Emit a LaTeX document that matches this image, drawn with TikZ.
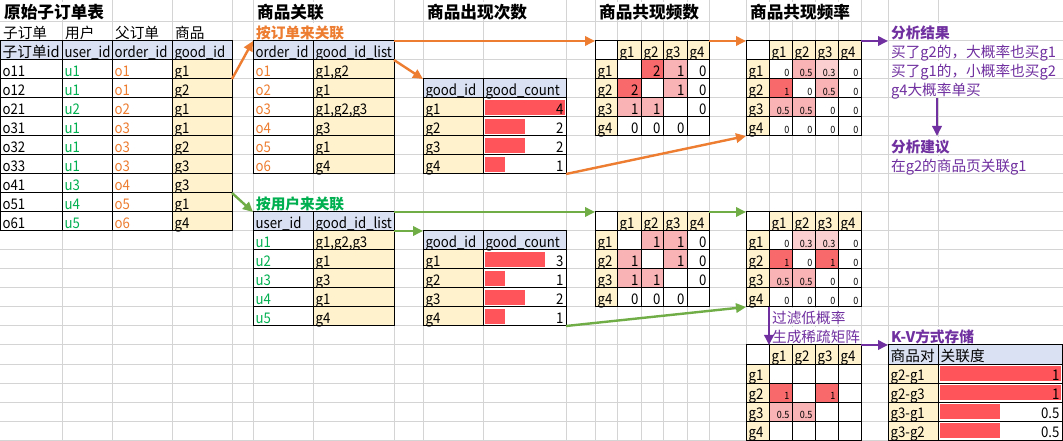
\documentclass[tikz,border=0pt]{standalone}
\usepackage{fontspec}
\setmainfont{Noto Sans CJK SC}
\newfontfamily\latn{Noto Sans CJK SC}[FakeStretch=0.9]
\usetikzlibrary{arrows.meta}
\definecolor{gridc}{HTML}{D4D4D4}
\definecolor{hblue}{HTML}{D9E1F2}
\definecolor{cyel}{HTML}{FFF2CC}
\definecolor{dkr}{HTML}{F8696B}
\definecolor{ltr}{HTML}{F9B3B4}
\definecolor{ltrb}{HTML}{FBCFD0}
\colorlet{cw}{white}
\definecolor{barr}{HTML}{FF555A}
\definecolor{orng}{HTML}{ED7D31}
\definecolor{grn}{HTML}{70AD47}
\definecolor{tgrn}{HTML}{00B050}
\definecolor{purp}{HTML}{7030A0}
\newcommand\emptyc{}
\tikzset{
 cellbox/.style={draw=black,line width=0.75pt,inner xsep=2pt,inner ysep=0pt,outer sep=0pt,text height=12pt,text depth=1.2pt,anchor=north west,font=\fontsize{11}{13}\selectfont\latn},
 cjk/.style={font=\fontsize{11}{13}\selectfont},
 txt/.style={anchor=west,inner xsep=1pt,inner ysep=0pt,fill=white,text height=12pt,text depth=1.2pt,font=\fontsize{11}{13}\selectfont},
 txtb/.style={txt,font=\fontsize{11}{13}\selectfont\bfseries},
 ttl/.style={anchor=west,inner xsep=1pt,inner ysep=0pt,fill=white,text height=13pt,text depth=1pt,font=\fontsize{12.5}{14}\selectfont\bfseries},
 gridl/.style={draw=gridc,line width=0.75pt},
 arO/.style={draw=orng,line width=1.8pt,-{Triangle[length=7.5pt,width=7pt]}},
 arG/.style={draw=grn,line width=1.8pt,-{Triangle[length=7.5pt,width=7pt]}},
 arP/.style={draw=purp,line width=1.8pt,-{Triangle[length=7.5pt,width=7pt]}},
}
% cell: name, x0, y0, x1, y1, fill, options, text
\newcommand\xc[8]{%
  \pgfmathsetmacro\xcW{((#4)-(#2))*0.75}%
  \pgfmathsetmacro\xcH{((#5)-(#3))*0.75}%
  \pgfmathsetmacro\xcT{\xcW-4}%
  \node[cellbox,fill=#6,minimum width=\xcW pt,minimum height=\xcH pt,text width=\xcT pt,#7] (#1) at (#2,#3) {#8};}
% matrix: name, x-list, ytop, font, rows
\newcommand\xmat[5]{%
  \pgfmathsetmacro\mxa{{#2}[0]}\pgfmathsetmacro\mxb{{#2}[1]}%
  \xc{#1-0-0}{\mxa}{#3}{\mxb}{#3+19}{white}{}{}%
  \foreach \k in {1,...,4}{%
    \pgfmathtruncatemacro\kn{\k+1}%
    \pgfmathsetmacro\ml{{#2}[\k]}\pgfmathsetmacro\mr{{#2}[\kn]}%
    \xc{#1-0-\k}{\ml}{#3}{\mr}{#3+19}{cyel}{}{g\k}%
    \pgfmathsetmacro\mt{#3+19*\k}%
    \xc{#1-\k-0}{\mxa}{\mt}{\mxb}{\mt+19}{cyel}{}{g\k}%
  }%
  \foreach \rowdata [count=\r] in {#5}{%
    \pgfmathsetmacro\mt{#3+19*\r}%
    \foreach \v/\f [count=\k] in \rowdata {%
      \pgfmathtruncatemacro\kn{\k+1}%
      \pgfmathsetmacro\ml{{#2}[\k]}\pgfmathsetmacro\mr{{#2}[\kn]}%
      \xc{#1-\r-\k}{\ml}{\mt}{\mr}{\mt+19}{\f}{align=right,font=#4}{\v}%
    }%
  }%
}
\begin{document}
\begin{tikzpicture}[x=0.75pt,y=-0.75pt]
\useasboundingbox (0,0) rectangle (1063,441);
\fill[white] (0,0) rectangle (1063,441);
% grid
\foreach \gx in {62,112,172,232,253,313,394,423,483,566,595,617,641,663,687,709,746,769,792,815,838,861,888,938}
  \draw[gridl] (\gx,0) -- (\gx,441);
\foreach \gy in {22,41,...,440}
  \draw[gridl] (0,\gy) -- (1063,\gy);
% titles and labels
\node[ttl] (ti1) at (2.5,11) {原始子订单表};
\node[ttl] (ti2) at (255.5,11) {商品关联};
\node[ttl] (ti3) at (425.5,11) {商品出现次数};
\node[ttl] (ti4) at (597.5,11) {商品共现频数};
\node[ttl] (ti5) at (748.5,11) {商品共现频率};
\node[txt] (lb1) at (1.5,31.5) {子订单};
\node[txt] (lb2) at (63.5,31.5) {用户};
\node[txt] (lb3) at (113.5,31.5) {父订单};
\node[txt] (lb4) at (173.5,31.5) {商品};
\node[txtb,text=orng] (lbo) at (254.5,31.5) {按订单来关联};
\node[txtb,text=tgrn] (lbu) at (254.5,202.5) {按用户来关联};
\node[txtb,text=purp] (an1) at (889.5,31.5) {分析结果};
\node[txt,text=purp] (an2) at (889.5,50.5) {买了g2的，大概率也买g1};
\node[txt,text=purp] (an3) at (889.5,69.5) {买了g1的，小概率也买g2};
\node[txt,text=purp] (an4) at (889.5,88.5) {g4大概率单买};
\node[txtb,text=purp] (an5) at (889.5,145.5) {分析建议};
\node[txt,text=purp] (an6) at (889.5,164.5) {在g2的商品页关联g1};
\node[txt,text=purp] (fl1) at (770.5,316.5) {过滤低概率};
\node[txt,text=purp] (fl2) at (770.5,335.5) {生成稀疏矩阵};
\node[txtb,text=purp] (kvt) at (889.5,335.5) {K-V方式存储};
% original table
\xc{t-0-1}{0}{41}{62}{60}{hblue}{cjk}{子订单id}
\xc{t-0-2}{62}{41}{112}{60}{hblue}{}{user\_id}
\xc{t-0-3}{112}{41}{172}{60}{hblue}{}{order\_id}
\xc{t-0-4}{172}{41}{232}{60}{hblue}{}{good\_id}
\foreach \ta/\tb/\tc/\td [count=\r] in {o11/u1/o1/g1,o12/u1/o1/g2,o21/u2/o2/g1,o31/u1/o3/g1,o32/u1/o3/g2,o33/u1/o3/g3,o41/u3/o4/g3,o51/u4/o5/g1,o61/u5/o6/g4}{
  \pgfmathsetmacro\yt{41+19*\r}
  \xc{t-\r-1}{0}{\yt}{62}{\yt+19}{white}{}{\ta}
  \xc{t-\r-2}{62}{\yt}{112}{\yt+19}{white}{text=tgrn}{\tb}
  \xc{t-\r-3}{112}{\yt}{172}{\yt+19}{white}{text=orng}{\tc}
  \xc{t-\r-4}{172}{\yt}{232}{\yt+19}{cyel}{}{\td}
}
% order table
\xc{o-0-1}{253}{41}{313}{60}{hblue}{}{order\_id}
\xc{o-0-2}{313}{41}{394}{60}{hblue}{}{good\_id\_list}
\foreach \ta/\tb [count=\r] in {o1/{g1,g2},o2/g1,o3/{g1,g2,g3},o4/g3,o5/g1,o6/g4}{
  \pgfmathsetmacro\yt{41+19*\r}
  \xc{o-\r-1}{253}{\yt}{313}{\yt+19}{white}{text=orng}{\ta}
  \xc{o-\r-2}{313}{\yt}{394}{\yt+19}{cyel}{}{\tb}
}
% user table
\xc{u-0-1}{253}{212}{313}{231}{hblue}{}{user\_id}
\xc{u-0-2}{313}{212}{394}{231}{hblue}{}{good\_id\_list}
\foreach \ta/\tb [count=\r] in {u1/{g1,g2,g3},u2/g1,u3/g3,u4/g1,u5/g4}{
  \pgfmathsetmacro\yt{212+19*\r}
  \xc{u-\r-1}{253}{\yt}{313}{\yt+19}{white}{text=tgrn}{\ta}
  \xc{u-\r-2}{313}{\yt}{394}{\yt+19}{cyel}{}{\tb}
}
% count tables
\xc{c1-0-1}{423}{79}{483}{98}{hblue}{}{good\_id}
\xc{c1-0-2}{483}{79}{566}{98}{hblue}{}{good\_count}
\foreach \ta/\tb [count=\r] in {g1/4,g2/2,g3/2,g4/1}{
  \pgfmathsetmacro\yt{79+19*\r}
  \xc{c1-\r-1}{423}{\yt}{483}{\yt+19}{cyel}{}{\ta}
  \fill[barr] (484.5,\yt+2) rectangle ({484.5+20.2*\tb},\yt+17);
  \xc{c1-\r-2}{483}{\yt}{566}{\yt+19}{none}{align=right}{\tb}
}
\xc{c2-0-1}{423}{231}{483}{250}{hblue}{}{good\_id}
\xc{c2-0-2}{483}{231}{566}{250}{hblue}{}{good\_count}
\foreach \ta/\tb [count=\r] in {g1/3,g2/1,g3/2,g4/1}{
  \pgfmathsetmacro\yt{231+19*\r}
  \xc{c2-\r-1}{423}{\yt}{483}{\yt+19}{cyel}{}{\ta}
  \fill[barr] (484.5,\yt+2) rectangle ({484.5+20.2*\tb},\yt+17);
  \xc{c2-\r-2}{483}{\yt}{566}{\yt+19}{none}{align=right}{\tb}
}
% matrices
\xmat{m1}{595,617,641,663,687,709}{41}{\fontsize{11}{13}\selectfont\latn}{{\emptyc/cw,2/dkr,1/ltr,0/cw},{2/dkr,\emptyc/cw,1/ltr,0/cw},{1/ltr,1/ltr,\emptyc/cw,0/cw},{0/cw,0/cw,0/cw,\emptyc/cw}}
\xmat{m2}{746,769,792,815,838,861}{41}{\fontsize{7.5}{9}\selectfont\latn}{{0/cw,0.5/ltr,0.3/ltrb,0/cw},{1/dkr,0/cw,0.5/ltr,0/cw},{0.5/ltr,0.5/ltr,0/cw,0/cw},{0/cw,0/cw,0/cw,0/cw}}
\xmat{m3}{595,617,641,663,687,709}{212}{\fontsize{11}{13}\selectfont\latn}{{\emptyc/cw,1/ltr,1/ltr,0/cw},{1/ltr,\emptyc/cw,1/ltr,0/cw},{1/ltr,1/ltr,\emptyc/cw,0/cw},{0/cw,0/cw,0/cw,\emptyc/cw}}
\xmat{m4}{746,769,792,815,838,861}{212}{\fontsize{7.5}{9}\selectfont\latn}{{0/cw,0.3/ltrb,0.3/ltrb,0/cw},{1/dkr,0/cw,1/dkr,0/cw},{0.5/ltr,0.5/ltr,0/cw,0/cw},{0/cw,0/cw,0/cw,0/cw}}
\xmat{m5}{746,769,792,815,838,861}{345}{\fontsize{7.5}{9}\selectfont\latn}{{\emptyc/cw,\emptyc/cw,\emptyc/cw,\emptyc/cw},{1/dkr,\emptyc/cw,1/dkr,\emptyc/cw},{0.5/ltr,0.5/ltr,\emptyc/cw,\emptyc/cw},{\emptyc/cw,\emptyc/cw,\emptyc/cw,\emptyc/cw}}
% KV table
\xc{kv-0-1}{888}{345}{938}{364}{hblue}{cjk}{商品对}
\xc{kv-0-2}{938}{345}{1062}{364}{hblue}{cjk}{关联度}
\foreach \ta/\tb [count=\r] in {g2-g1/1,g2-g3/1,g3-g1/0.5,g3-g2/0.5}{
  \pgfmathsetmacro\yt{345+19*\r}
  \xc{kv-\r-1}{888}{\yt}{938}{\yt+19}{cyel}{}{\ta}
  \fill[barr] (939.5,\yt+2) rectangle ({939.5+121.5*\tb},\yt+17);
  \xc{kv-\r-2}{938}{\yt}{1062}{\yt+19}{none}{align=right}{\tb}
}
% arrows
\coordinate (pa1) at (888,41);
\coordinate (pb1) at (937,98);
\coordinate (pb2) at (937,136);
\draw[arO] (t-1-4.south east) -- (o-0-1.north west);
\draw[arO] (o-0-2.north east) -- (m1-0-0.north west);
\draw[arO] (o-0-2.south east) -- (c1-0-1.north west);
\draw[arO] (c1-4-2.south east) -- (m2-4-0.south west);
\draw[arO] (m1-0-4.north east) -- (m2-0-0.north west);
\draw[arG] (t-7-4.south east) -- (u-0-1.north west);
\draw[arG] (u-0-2.north east) -- (m3-0-0.north west);
\draw[arG] (u-0-2.south east) -- (c2-0-1.north west);
\draw[arG] (c2-4-2.south east) -- (m4-4-0.south west);
\draw[arG] (m3-0-4.north east) -- (m4-0-0.north west);
\draw[arP] (m2-0-4.north east) -- (pa1);
\draw[arP] (pb1) -- (pb2);
\draw[arP] (m4-4-1.south west) -- (m5-0-1.north west);
\draw[arP] (m5-0-4.north east) -- (kv-0-1.north west);
\end{tikzpicture}
\end{document}
